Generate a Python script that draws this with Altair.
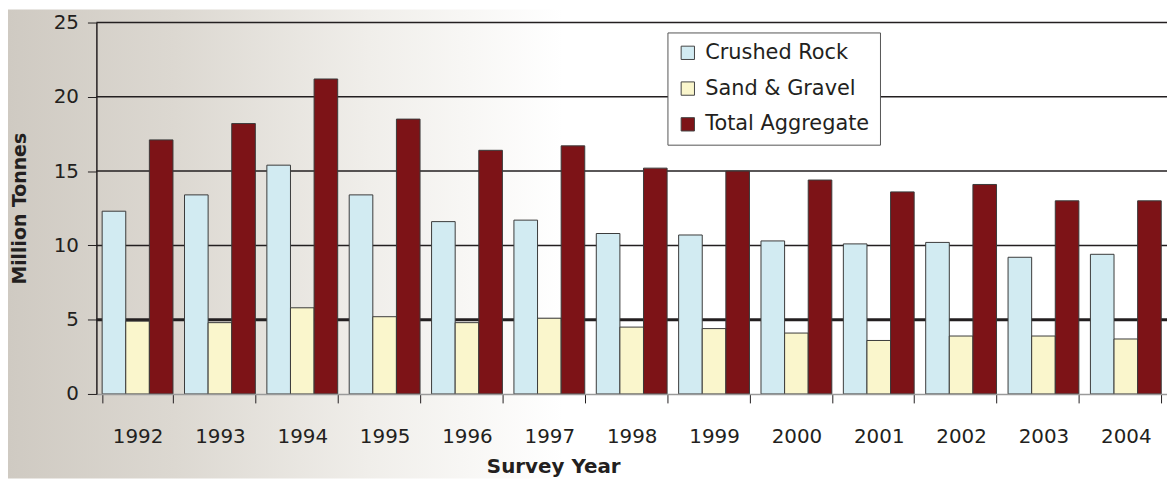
import altair as alt
import pandas as pd

years = ["1992", "1993", "1994", "1995", "1996", "1997", "1998",
         "1999", "2000", "2001", "2002", "2003", "2004"]
crushed_rock = [12.3, 13.4, 15.4, 13.4, 11.6, 11.7, 10.8, 10.7, 10.3, 10.1, 10.2, 9.2, 9.4]
sand_gravel = [4.9, 4.8, 5.8, 5.2, 4.8, 5.1, 4.5, 4.4, 4.1, 3.6, 3.9, 3.9, 3.7]
total_aggregate = [17.1, 18.2, 21.2, 18.5, 16.4, 16.7, 15.2, 15.0, 14.4, 13.6, 14.1, 13.0, 13.0]
series = ["Crushed Rock", "Sand & Gravel", "Total Aggregate"]
colors = ["#d2ebf2", "#faf6cc", "#7d1317"]
grid_values = [5, 10, 15, 20, 25]
y_ticks = [0, 5, 10, 15, 20, 25]

rows = []
for name, vals in zip(series, [crushed_rock, sand_gravel, total_aggregate]):
    for y, v in zip(years, vals):
        rows.append({"year": y, "series": name, "value": v})
df = pd.DataFrame(rows)
grid_df = pd.DataFrame({"value": grid_values})

FONT = "DejaVu Sans"
INK = "#231f20"

y_scale = alt.Scale(domain=[0, 25])
y_axis = alt.Axis(
    title="Million Tonnes",
    values=y_ticks,
    labelFont=FONT, labelFontSize=20, labelColor=INK, labelPadding=9,
    tickSize=9, tickColor=INK, tickWidth=1,
    domainColor=INK, domainWidth=1.5,
    titleFont=FONT, titleFontSize=19, titleFontWeight="bold", titleColor=INK,
    titleX=-77, titleY=187, titleBaseline="middle", titleAngle=-90,
    grid=False, zindex=1,
)

background = alt.Chart(pd.DataFrame({"a": [0]})).mark_rect(
    clip=False,
    color=alt.Gradient(
        gradient="linear",
        x1=0, x2=1, y1=0, y2=0,
        stops=[
            alt.GradientStop(offset=0, color="#cfcac2"),
            alt.GradientStop(offset=0.3, color="#dcd8d1"),
            alt.GradientStop(offset=0.65, color="#f0eeea"),
            alt.GradientStop(offset=1, color="#ffffff"),
        ],
    ),
).encode(
    x=alt.value(-89), x2=alt.value(470),
    y=alt.value(-13), y2=alt.value(459),
)

grid = alt.Chart(grid_df).mark_rule(color=INK).encode(
    y=alt.Y("value:Q", scale=y_scale, axis=y_axis),
    strokeWidth=alt.condition("datum.value == 5", alt.value(3), alt.value(1.5)),
)

bars = alt.Chart(df).mark_bar(stroke="#3a3a3a", strokeWidth=1).encode(
    x=alt.X(
        "year:N",
        sort=years,
        scale=alt.Scale(paddingInner=0.14, paddingOuter=0.07),
        axis=alt.Axis(
            title="Survey Year",
            labelAngle=0,
            labelFont=FONT, labelFontSize=20, labelColor=INK,
            labelPadding=24,
            tickBand="extent", tickSize=9, tickColor=INK, tickWidth=1,
            domainColor="#9a9a9a", domainWidth=1.5,
            titleFont=FONT, titleFontSize=20, titleFontWeight="bold", titleColor=INK,
            titleX=460, titleY=73, titleBaseline="middle",
            grid=False, zindex=1,
        ),
    ),
    xOffset=alt.XOffset("series:N", sort=series, scale=alt.Scale(paddingInner=0, paddingOuter=0)),
    y=alt.Y("value:Q", scale=y_scale, axis=y_axis),
    color=alt.Color(
        "series:N",
        sort=series,
        scale=alt.Scale(domain=series, range=colors),
        legend=alt.Legend(
            title=None,
            orient="none", legendX=575, legendY=10,
            labelFont=FONT, labelFontSize=21, labelColor=INK, labelLimit=400,
            symbolType="square", symbolSize=180, symbolStrokeColor="#444444",
            symbolStrokeWidth=1, symbolOpacity=1,
            rowPadding=14, padding=10, labelOffset=7,
            fillColor="white", strokeColor="#555555",
        ),
    ),
)

chart = alt.layer(background, grid, bars).properties(
    width=1078, height=374,
    padding={"left": 89, "top": 13, "right": 0, "bottom": 85},
    autosize=alt.AutoSizeParams(type="none"),
    background="white",
).configure_view(stroke=None)

chart.save("out.html", embed_options={"renderer": "svg", "actions": False})
